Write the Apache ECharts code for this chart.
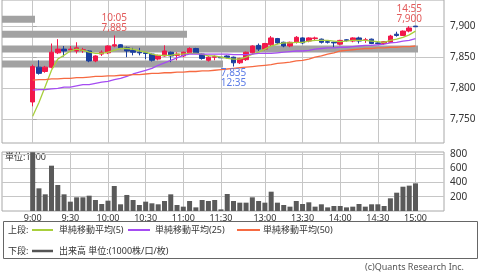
<!DOCTYPE html>
<html><head><meta charset="utf-8">
<script src="https://cdn.jsdelivr.net/npm/echarts@6/dist/echarts.min.js"></script>
<style>html,body{margin:0;padding:0;background:#fff}#c{width:480px;height:272px}</style>
</head><body><div id="c"></div>
<script>
const times = ['9:00','9:05','9:10','9:15','9:20','9:25','9:30','9:35','9:40','9:45','9:50','9:55',
 '10:00','10:05','10:10','10:15','10:20','10:25','10:30','10:35','10:40','10:45','10:50','10:55',
 '11:00','11:05','11:10','11:15','11:20','11:25','11:30',
 '12:30','12:35','12:40','12:45','12:50','12:55',
 '13:00','13:05','13:10','13:15','13:20','13:25','13:30','13:35','13:40','13:45','13:50','13:55',
 '14:00','14:05','14:10','14:15','14:20','14:25','14:30','14:35','14:40','14:45','14:50','14:55','15:00'];
const opens = [7778,7834,7827,7834,7857,7863,7862,7860,7861,7860,7844,7855,
 7857,7868,7870,7865,7861,7858,7857,7855,7847,7852,7858,7853,
 7852,7857,7864,7855,7845,7850,7850,
 7852,7850,7841,7846,7857,7869,
 7863,7870,7880,7874,7868,7874,7881,7876,7880,7879,7875,7874,
 7871,7878,7876,7881,7877,7879,7873,7872,7874,7887,7885,7892,7900];
const closes = [7835,7824,7834,7858,7863,7860,7863,7865,7862,7844,7852,7858,
 7868,7870,7865,7860,7858,7857,7856,7845,7853,7860,7852,7855,
 7858,7864,7857,7848,7850,7851,7849,
 7850,7841,7848,7858,7868,7863,
 7872,7881,7873,7868,7874,7882,7873,7881,7881,7874,7874,7873,
 7877,7877,7881,7876,7878,7872,7872,7875,7884,7885,7892,7897,7899];
const lows = [7771,7822,7825,7832,7855,7851,7858,7856,7857,7842,7842,7852,
 7855,7866,7863,7850,7853,7853,7847,7843,7845,7851,7842,7845,
 7850,7856,7855,7846,7843,7845,7849,
 7848,7835,7839,7844,7855,7860,
 7861,7868,7871,7866,7866,7872,7871,7874,7876,7872,7872,7866,
 7869,7875,7874,7872,7873,7871,7871,7870,7873,7883,7884,7890,7899];
const highs = [7838,7845,7836,7872,7879,7868,7868,7874,7865,7861,7853,7861,
 7869,7885,7871,7867,7865,7865,7858,7856,7854,7869,7859,7858,
 7859,7866,7865,7856,7852,7853,7850,
 7853,7851,7849,7859,7869,7872,
 7873,7884,7881,7875,7875,7884,7882,7882,7883,7880,7876,7875,
 7878,7879,7882,7883,7881,7880,7874,7876,7886,7891,7893,7900,7900];
const volumes = [825,318,234,636,365,234,131,192,192,215,154,98,
 145,351,94,225,154,84,131,108,94,140,234,84,
 61,140,51,154,140,154,23,
 239,140,117,117,192,140,
 117,271,117,84,61,140,98,122,61,94,51,70,
 70,51,61,98,61,94,94,70,178,257,341,356,388];
const ma5 = [7755,7777,7803,7829,7847,7853,7860,7863,7861,7858,7856,7856,
 7858,7861,7864,7864,7863,7860,7858,7855,7853,7853,7853,7855,
 7855,7856,7856,7855,7852,7852,7850,
 7848,7847,7847,7850,7855,7858,
 7863,7868,7871,7873,7873,7874,7874,7876,7877,7877,7877,7876,
 7875,7876,7877,7877,7877,7876,7875,7874,7877,7879,7882,7886,7892];
const ma25 = [7797,7798,7798,7799,7800,7802,7802,7804,7806,7806,7808,7810,
 7811,7814,7816,7819,7823,7826,7829,7832,7837,7841,7845,7849,
 7853,7855,7855,7855,7855,7855,7855,
 7855,7854,7854,7854,7855,7856,
 7856,7856,7857,7858,7859,7860,7860,7861,7863,7864,7865,7865,
 7866,7866,7867,7868,7869,7869,7870,7871,7873,7874,7876,7877,7880];
const ma50 = [7813,7814,7814,7815,7815,7816,7816,7817,7817,7818,7819,7819,
 7820,7820,7821,7821,7822,7822,7823,7824,7824,7825,7825,7826,
 7826,7827,7827,7828,7828,7829,7830,
 7831,7832,7833,7834,7835,7836,
 7837,7838,7840,7841,7842,7844,7845,7847,7850,7852,7855,7857,
 7860,7861,7862,7863,7864,7864,7865,7865,7866,7866,7867,7867,7868];
const xTickLabels = ['9:00','9:30','10:00','10:30','11:00','11:30','13:00','13:30','14:00','14:30','15:00'];
const priceTicks = [7750,7800,7850,7900];
const volTicks = [200,400,600,800];
const profilePrices = [7911,7887,7863,7839];
const profileVolumes = [330,1850,4160,2210];
const highNotes = ['10:05','14:55'];
const lowNotes = ['12:35'];
const maNames = ['単純移動平均(5)','単純移動平均(25)','単純移動平均(50)'];
const volName = '出来高 単位:(1000株/口/枚)';

const FF = '"Noto Sans","Noto Sans CJK JP",sans-serif';
const UP = '#f2184a', DOWN = '#1b3f9e';
const MA_COLORS = ['#a8cf3c','#a54cf2','#f66a42'];
const XMIN = -4.89, XMAX = 65.54;
const GRID_LINE = '#c6c6c6', BORDER = '#a8a8a8';
const tickIdx = xTickLabels.map(t => times.indexOf(t));
const fmt = v => Number(v).toLocaleString('en-US');

const marks = [];
highNotes.forEach(t => { const i = times.indexOf(t);
  marks.push({coord:[i, highs[i]], label:{position:'top', color:'#e25a5a', formatter: t + '\n' + fmt(highs[i])}}); });
lowNotes.forEach(t => { const i = times.indexOf(t);
  marks.push({coord:[i, lows[i]], label:{position:'bottom', color:'#5b7be6', formatter: fmt(lows[i]) + '\n' + t}}); });

const chart = echarts.init(document.getElementById('c'));
const legendY1 = 230, legendY2 = 251;
const txt = (x, y, s, extra) => Object.assign({type:'text', x:x, y:y, style:{text:s, font:'9px ' + FF, fill:'#333', verticalAlign:'middle'}}, extra || {});
const seg = (x1, x2, y, c, w) => ({type:'line', shape:{x1:x1, y1:y, x2:x2, y2:y}, style:{stroke:c, lineWidth:w}});

chart.setOption({
  animation: false,
  textStyle: {fontFamily: FF},
  grid: [
    {left:2, top:0, width:442, height:143, show:true, borderColor:BORDER, borderWidth:1},
    {left:2, top:152, width:442, height:59, show:true, borderColor:BORDER, borderWidth:1}
  ],
  xAxis: [
    {type:'value', gridIndex:0, min:XMIN, max:XMAX, axisLine:{show:false}, axisTick:{show:false, customValues:tickIdx},
     axisLabel:{show:false}, splitLine:{show:true, lineStyle:{color:GRID_LINE}}},
    {type:'value', gridIndex:1, min:XMIN, max:XMAX, axisLine:{show:false}, axisTick:{show:false, customValues:tickIdx},
     axisLabel:{show:true, customValues:tickIdx, formatter: v => times[Math.round(v)], fontSize:9, color:'#333', margin:3},
     splitLine:{show:true, lineStyle:{color:GRID_LINE}}},
    {type:'value', gridIndex:0, min:0, max:4420, show:false}
  ],
  yAxis: [
    {type:'value', gridIndex:0, position:'right', min:7712, max:7942, axisLine:{show:false},
     axisTick:{show:true, customValues:priceTicks, length:4, lineStyle:{color:BORDER}},
     axisLabel:{customValues:priceTicks, formatter: fmt, fontSize:10, color:'#333', margin:6},
     splitLine:{show:true, lineStyle:{color:GRID_LINE}}},
    {type:'value', gridIndex:1, position:'right', min:0, max:828, axisLine:{show:false},
     axisTick:{show:true, customValues:volTicks, length:4, lineStyle:{color:BORDER}},
     axisLabel:{customValues:volTicks, fontSize:10, color:'#333', margin:6},
     splitLine:{show:true, lineStyle:{color:GRID_LINE}}}
  ],
  series: [
    {type:'custom', xAxisIndex:2, yAxisIndex:0, z:1,
     data: profilePrices.map((p, i) => [profileVolumes[i], p]),
     renderItem: (params, api) => {
       const a = api.coord([0, api.value(1)]);
       const b = api.coord([api.value(0), api.value(1)]);
       return {type:'rect', shape:{x:a[0], y:a[1] - 3.5, width:b[0] - a[0], height:7}, style:{fill:'#a2a2a2'}};
     }},
    {type:'candlestick', xAxisIndex:0, yAxisIndex:0, z:3, barWidth:5,
     data: times.map((t, i) => [i, opens[i], closes[i], lows[i], highs[i]]),
     encode:{x:0, y:[1,2,3,4]},
     itemStyle:{color:UP, color0:DOWN, borderColor:UP, borderColor0:DOWN, borderWidth:1},
     markPoint:{symbol:'circle', symbolSize:0.1, silent:true,
       label:{show:true, fontSize:10, lineHeight:10, distance:2, fontFamily:FF},
       data: marks}},
    ...[ma5, ma25, ma50].map((arr, k) => ({type:'line', name:maNames[k], xAxisIndex:0, yAxisIndex:0, z:4,
      data: arr.map((v, i) => [i, v]), symbol:'none', lineStyle:{color:MA_COLORS[k], width:1.3}})),
    {type:'bar', xAxisIndex:1, yAxisIndex:1, barWidth:5,
     data: volumes.map((v, i) => [i, v]), itemStyle:{color:'#5a5a5a'}}
  ],
  graphic: [
    txt(5, 157, '単位:1000'),
    {type:'rect', shape:{x:3.5, y:221.5, width:474, height:37}, style:{fill:'none', stroke:'#666', lineWidth:1}},
    txt(8, legendY1, '上段:'),
    seg(32, 53, legendY1, MA_COLORS[0], 2), txt(59, legendY1, maNames[0]),
    seg(128, 150, legendY1, MA_COLORS[1], 2), txt(155, legendY1, maNames[1]),
    seg(237, 260, legendY1, MA_COLORS[2], 2), txt(263, legendY1, maNames[2]),
    txt(8, legendY2, '下段:'),
    seg(32, 53, legendY2, '#555', 2.5), txt(59, legendY2, volName),
    txt(464, 267, '(c)Quants Research Inc.', {style:{text:'(c)Quants Research Inc.', font:'9px ' + FF, fill:'#555', align:'right', verticalAlign:'middle'}})
  ]
});
</script></body></html>
